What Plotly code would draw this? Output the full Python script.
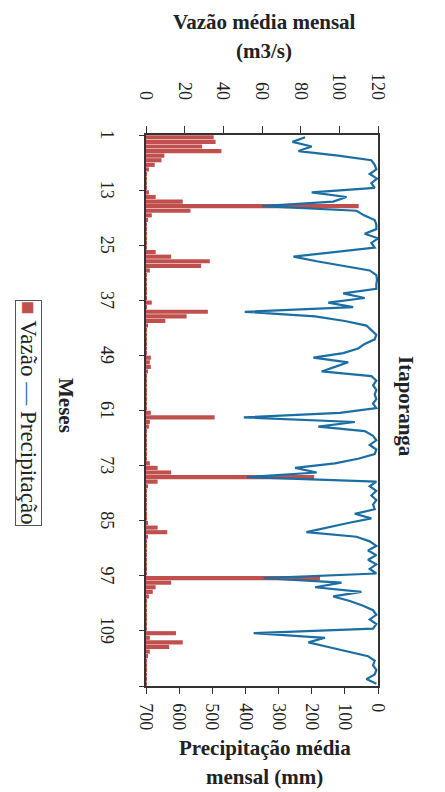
import plotly.graph_objects as go

# ---- data ----
months = list(range(1, 121))

vazao = [35, 36, 29, 39, 9.5, 8, 4.5, 1.5, 0.5, 0.3, 0.3, 0.3,
         1.5, 5, 19, 110, 23, 3, 1, 0.5, 0.3, 0.3, 0.2, 0.2,
         0.5, 5, 13, 33, 28.5, 2, 0.5, 0.3, 0.2, 0.2, 0.2, 0.3,
         3, 0.5, 32, 21, 10, 1, 0.3, 0.2, 0.2, 0.2, 0.2, 0.3,
         2.5, 2, 2.5, 1, 0.3, 0.2, 0.2, 0.2, 0.2, 0.2, 0.2, 0.3,
         2.5, 35.5, 2, 1.5, 0.5, 0.3, 0.2, 0.2, 0.2, 0.2, 0.3, 2,
         6, 13, 87, 6, 1, 0.3, 0.2, 0.2, 0.2, 0.2, 0.2, 0.3,
         1, 6, 11, 1, 0.3, 0.2, 0.2, 0.2, 0.2, 0.2, 0.2, 0.5,
         90, 13, 5, 3.5, 1.5, 0.5, 0.3, 0.2, 0.2, 0.2, 0.2, 0.3,
         15.5, 2, 19, 12, 2, 1, 0.5, 0.3, 0.2, 0.2, 0.2, 0.2]

precipitacao = [220, 258, 200, 240, 120, 20, 10, 5, 25, 3, 20, 10,
                200, 95, 135, 350, 65, 42, 10, 5, 5, 40, 0, 20,
                10, 135, 255, 185, 105, 25, 5, 3, 5, 5, 105, 40,
                150, 75, 402, 190, 100, 35, 20, 5, 10, 40, 60, 105,
                195, 90, 130, 170, 20, 5, 15, 5, 10, 5, 15, 5,
                115, 405, 70, 180, 40, 15, 5, 25, 5, 10, 60, 130,
                250, 185, 395, 5, 25, 5, 20, 5, 15, 10, 70, 20,
                90, 155, 216, 65, 25, 5, 30, 5, 30, 5, 25, 5,
                345, 110, 190, 50, 135, 85, 45, 15, 5, 25, 5, 15,
                375, 160, 210, 150, 90, 30, 10, 15, 5, 10, 35, 5]

month_ticks = [1, 13, 25, 37, 49, 61, 73, 85, 97, 109]
vazao_ticks = [0, 20, 40, 60, 80, 100, 120]
precip_ticks = [0, 100, 200, 300, 400, 500, 600, 700]

BAR = "#c0504d"
LINE = "#1b6ea3"
FONT = "Liberation Serif"
AX = "#333333"

fig = go.Figure()
fig.add_trace(go.Bar(x=vazao, y=months, orientation="h", marker=dict(color=BAR, line=dict(width=0)),
                     name="Vazão", xaxis="x", yaxis="y"))
fig.add_trace(go.Scatter(x=precipitacao, y=months, mode="lines", line=dict(color=LINE, width=2.2),
                         name="Precipitação", xaxis="x2", yaxis="y"))

fig.update_layout(
    width=445, height=792,
    margin=dict(l=138, r=75, t=127, b=114),
    paper_bgcolor="white", plot_bgcolor="white",
    showlegend=False, bargap=0.1,
    font=dict(family=FONT, size=18, color="#222222"),
    xaxis=dict(side="top", range=[0, 120], tickvals=vazao_ticks, tickangle=90,
               ticks="outside", ticklen=7, tickcolor=AX, showline=True, linecolor=AX, linewidth=1.5,
               ticklabelstandoff=20, automargin=False,
               showgrid=False, zeroline=False, tickfont=dict(size=18)),
    xaxis2=dict(overlaying="x", side="bottom", range=[700, 0], tickvals=precip_ticks, tickangle=90,
                ticks="outside", ticklen=6, tickcolor=AX, showline=True, linecolor=AX, linewidth=1.5,
                ticklabelstandoff=6, automargin=False,
                showgrid=False, zeroline=False, tickfont=dict(size=18)),
    yaxis=dict(range=[120.5, 0.5], tickvals=month_ticks, tickangle=90, ticks="",
               minor=dict(tick0=0.5, dtick=12, ticks="outside", ticklen=5, tickcolor=AX),
               ticklabelstandoff=22, automargin=False,
               showline=True, mirror=True, linecolor=AX, linewidth=1.5,
               showgrid=False, zeroline=False, tickfont=dict(size=18)),
)

def py(px):
    return (678 - px) / 551

def pxx(px):
    return (px - 138) / 232

ann = [
    dict(text="<b>Vazão média mensal</b>", x=pxx(256), y=py(14), font=dict(size=21)),
    dict(text="<b>(m3/s)</b>", x=pxx(256), y=py(43), font=dict(size=21)),
    dict(text="<b>Precipitação média</b>", x=pxx(257), y=py(740), font=dict(size=21)),
    dict(text="<b>mensal (mm)</b>", x=pxx(256), y=py(769), font=dict(size=21)),
    dict(text="<b>Itaporanga</b>", x=pxx(398), y=py(398), textangle=90, font=dict(size=21)),
    dict(text="<b>Meses</b>", x=pxx(58), y=py(397), textangle=90, font=dict(size=21)),
    dict(text=f"<span style='color:{BAR}'>■</span> Vazão <span style='color:{LINE}'>—</span> Precipitação",
         x=pxx(21), y=py(405), textangle=90, font=dict(size=23),
         bordercolor="#555555", borderwidth=1, borderpad=0, bgcolor="white"),
]
for a in ann:
    a.update(xref="paper", yref="paper", showarrow=False, xanchor="center", yanchor="middle")
fig.update_layout(annotations=ann)

fig.write_html("out.html")
